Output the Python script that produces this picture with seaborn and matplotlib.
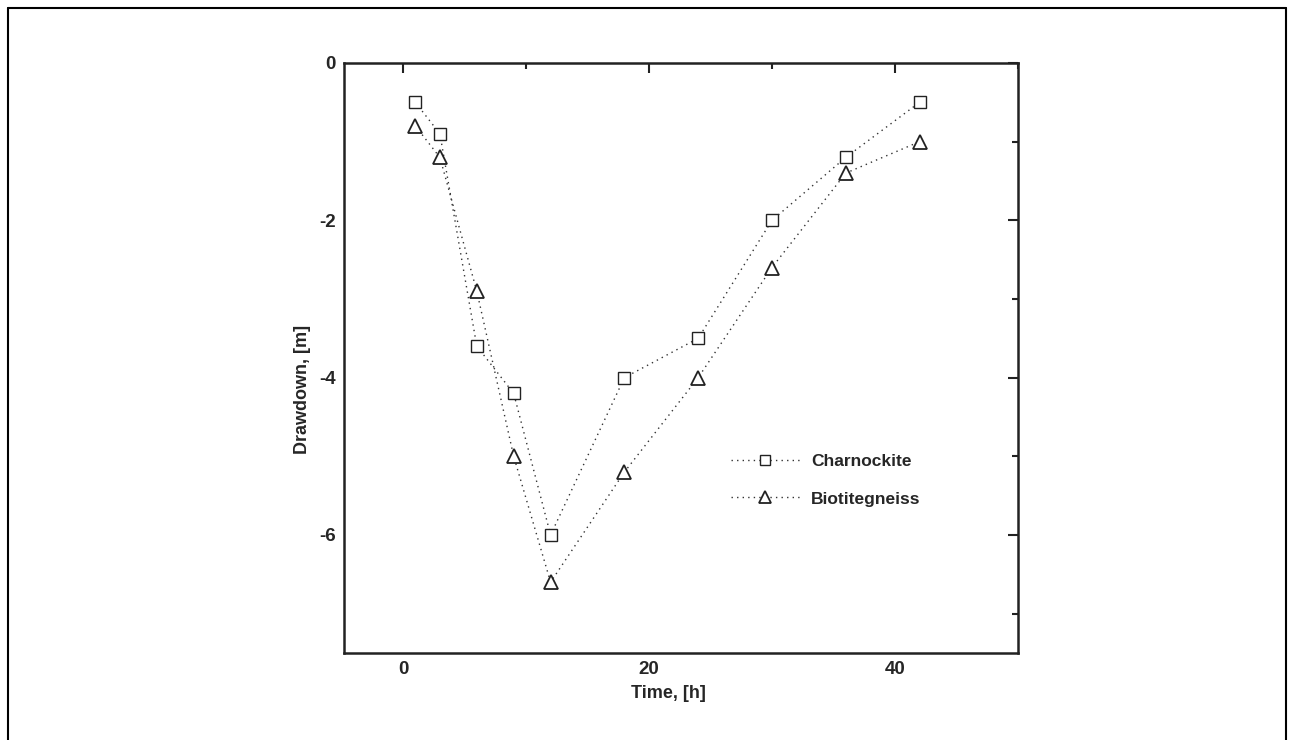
import matplotlib
matplotlib.use('Agg')
import matplotlib.pyplot as plt
import seaborn as sns
import pandas as pd
from matplotlib.lines import Line2D
from matplotlib.ticker import MultipleLocator

sns.set_style('white')
plt.rcParams['font.family'] = ['Liberation Sans', 'DejaVu Sans']
plt.rcParams['axes.unicode_minus'] = False

# data
time_h = [1, 3, 6, 9, 12, 18, 24, 30, 36, 42]
charnockite = [-0.5, -0.9, -3.6, -4.2, -6.0, -4.0, -3.5, -2.0, -1.2, -0.5]
biotitegneiss = [-0.8, -1.2, -2.9, -5.0, -6.6, -5.2, -4.0, -2.6, -1.4, -1.0]

df = pd.DataFrame({'time': time_h, 'Charnockite': charnockite, 'Biotitegneiss': biotitegneiss})

fig = plt.figure(figsize=(12.94, 7.4), dpi=100)
ax = fig.add_axes([0.2658, 0.1176, 0.5209, 0.7973])

# outer frame (left, top, right)
for xs, ys in [([0.0062, 0.0062], [0, 0.989]), ([0.0062, 0.9938], [0.989, 0.989]), ([0.9938, 0.9938], [0, 0.989])]:
    fig.add_artist(Line2D(xs, ys, color='black', lw=1.5, transform=fig.transFigure))

sns.lineplot(data=df, x='time', y='Charnockite', ax=ax, sort=False, color='#333333', lw=1,
             linestyle=(0, (1, 3)), marker='s', markersize=8, markerfacecolor='white',
             markeredgecolor='#222222', markeredgewidth=1, label='Charnockite')
sns.lineplot(data=df, x='time', y='Biotitegneiss', ax=ax, sort=False, color='#333333', lw=1,
             linestyle=(0, (1, 3)), marker='^', markersize=10, markerfacecolor='white',
             markeredgecolor='#222222', markeredgewidth=1.3, label='Biotitegneiss')

ax.set_xlim(-4.8, 50)
ax.set_ylim(-7.5, 0)
ax.xaxis.set_major_locator(MultipleLocator(20))
ax.xaxis.set_minor_locator(MultipleLocator(10))
ax.yaxis.set_major_locator(MultipleLocator(2))
ax.yaxis.set_minor_locator(MultipleLocator(1))
ax.tick_params(which='both', direction='in', top=True, right=True, color='#222222', width=1.5)
ax.tick_params(which='major', length=7, labelsize=13.5, pad=6)
ax.tick_params(which='minor', length=4)
for lab in ax.get_xticklabels() + ax.get_yticklabels():
    lab.set_fontweight('bold')
for sp in ax.spines.values():
    sp.set_linewidth(1.8)
    sp.set_color('#222222')

ax.set_xlabel('Time, [h]', fontsize=13, fontweight='bold')
ax.set_ylabel('Drawdown, [m]', fontsize=13, fontweight='bold')
ax.xaxis.set_label_coords(0.482, -0.054)
ax.yaxis.set_label_coords(-0.049, 0.446)

leg = ax.legend(loc='upper left', bbox_to_anchor=(0.561, 0.3525), frameon=False, borderpad=0,
                handlelength=4.0, handletextpad=0.63, labelspacing=1.3,
                prop={'weight': 'bold', 'size': 12.5})
for h in leg.legend_handles:
    h.set_markersize(7 if h.get_marker() == 's' else 9)

fig.savefig('out.png', dpi=100)
